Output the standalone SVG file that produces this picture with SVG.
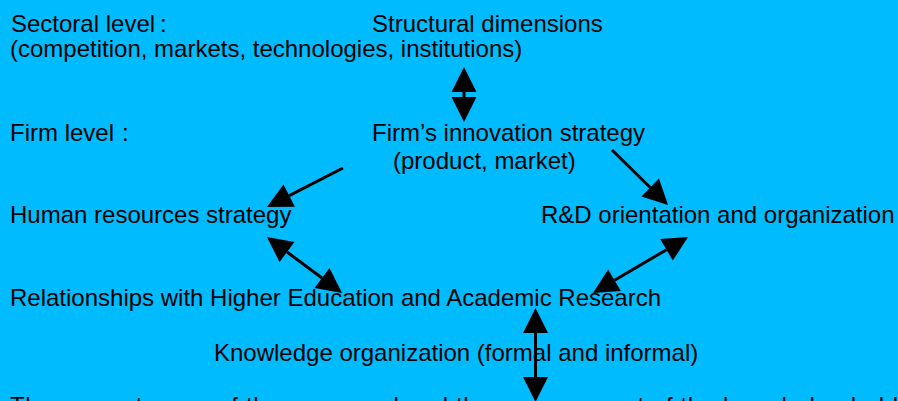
<svg xmlns="http://www.w3.org/2000/svg" width="898" height="401" viewBox="0 0 898 401">
<style>
text{font-family:"Liberation Sans",Arial,sans-serif;font-size:24px;fill:#000}
.c{stroke:#000;stroke-width:3;fill:none}
</style>
<defs>
<marker id="ah" markerUnits="userSpaceOnUse" markerWidth="26" markerHeight="26" viewBox="0 -13 26 26" refX="0" refY="0" orient="auto-start-reverse" overflow="visible">
<path d="M0,-12.5 L25,0 L0,12.5 z" fill="#000"/>
</marker>
</defs>
<rect width="898" height="401" fill="#00BCFF"/>
<g id="sectoral"><text x="11" y="32">Sectoral level<tspan x="160">:</tspan></text><text x="10" y="57">(competition, markets, technologies, institutions)</text></g>
<g id="structural"><text x="372" y="32">Structural dimensions</text></g>
<g id="firmlevel"><text x="10" y="141">Firm level<tspan x="122">:</tspan></text></g>
<g id="strategy"><text x="372" y="141">Firm’s innovation strategy</text><text x="393" y="169">(product, market)</text></g>
<g id="hr"><text x="10" y="223">Human resources strategy</text></g>
<g id="rd"><text x="541" y="223">R&amp;D orientation and organization</text></g>
<g id="rel"><text x="10" y="306">Relationships with Higher Education and Academic Research</text></g>
<g id="know"><text x="214" y="361">Knowledge organization (formal and informal)</text></g>
<g id="bottom"><text x="10" y="414" textLength="888" lengthAdjust="spacing">The competences of the personnel and the management of the knowledge held</text></g>
<g id="connectors">
<line class="c" x1="464" y1="92" x2="464" y2="97" marker-start="url(#ah)" marker-end="url(#ah)"/>
<line class="c" x1="343" y1="168" x2="289.2" y2="195.6" marker-end="url(#ah)"/>
<line class="c" x1="612" y1="150" x2="650.2" y2="187.5" marker-end="url(#ah)"/>
<line class="c" x1="287" y1="252" x2="322" y2="278" marker-start="url(#ah)" marker-end="url(#ah)"/>
<line class="c" x1="666.5" y1="249.7" x2="614.5" y2="280.3" marker-start="url(#ah)" marker-end="url(#ah)"/>
<line class="c" x1="535.5" y1="333" x2="535.5" y2="377" marker-start="url(#ah)" marker-end="url(#ah)"/>
</g>
</svg>
